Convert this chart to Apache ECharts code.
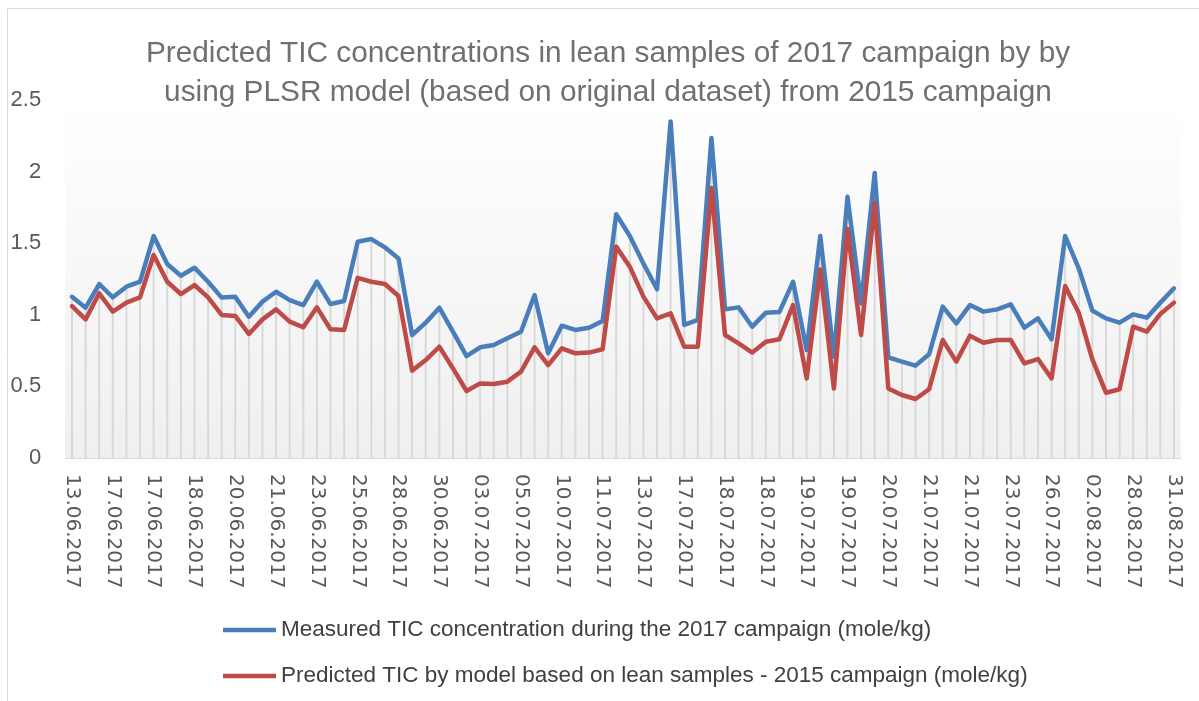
<!DOCTYPE html>
<html>
<head>
<meta charset="utf-8">
<title>Predicted TIC concentrations</title>
<script src="https://cdn.jsdelivr.net/npm/echarts@6/dist/echarts.min.js"></script>
<style>
  html, body { margin: 0; padding: 0; background: #ffffff; }
  #chart { width: 1199px; height: 701px; }
</style>
</head>
<body>
<div id="chart"></div>
<script>
// Sampling dates printed under every third sample
const tickLabels = [
  '13.06.2017', '17.06.2017', '17.06.2017', '18.06.2017', '20.06.2017', '21.06.2017',
  '23.06.2017', '25.06.2017', '28.06.2017', '30.06.2017', '03.07.2017', '05.07.2017',
  '10.07.2017', '11.07.2017', '13.07.2017', '17.07.2017', '18.07.2017', '18.07.2017',
  '19.07.2017', '19.07.2017', '20.07.2017', '21.07.2017', '21.07.2017', '23.07.2017',
  '26.07.2017', '02.08.2017', '28.08.2017', '31.08.2017'
];
const labelEvery = 3;

// Measured TIC, 2017 campaign (mole/kg)
const measured = [
  1.126, 1.05, 1.215, 1.122, 1.196, 1.231, 1.55, 1.355, 1.273, 1.329,
  1.231, 1.12, 1.126, 0.987, 1.092, 1.161, 1.103, 1.068, 1.231, 1.075,
  1.096, 1.51, 1.529, 1.471, 1.394, 0.859, 0.945, 1.05, 0.882, 0.712,
  0.773, 0.789, 0.836, 0.882, 1.138, 0.731, 0.924, 0.894, 0.91, 0.957,
  1.702, 1.55, 1.359, 1.178, 2.35, 0.929, 0.964, 2.235, 1.038, 1.052,
  0.917, 1.015, 1.02, 1.231, 0.754, 1.55, 0.708, 1.825, 1.08, 1.99,
  0.703, 0.673, 0.645, 0.724, 1.057, 0.94, 1.068, 1.022, 1.038, 1.073,
  0.91, 0.975, 0.829, 1.55, 1.325, 1.029, 0.975, 0.945, 1.003, 0.98,
  1.085, 1.185
];

// Predicted TIC from the 2015 lean-sample PLSR model (mole/kg)
const predicted = [
  1.061, 0.968, 1.15, 1.022, 1.085, 1.122, 1.418, 1.231, 1.145, 1.208,
  1.122, 0.999, 0.992, 0.866, 0.968, 1.038, 0.952, 0.913, 1.052, 0.899,
  0.894, 1.258, 1.231, 1.215, 1.131, 0.61, 0.684, 0.777, 0.626, 0.468,
  0.521, 0.517, 0.533, 0.603, 0.773, 0.649, 0.766, 0.731, 0.736, 0.759,
  1.476, 1.336, 1.127, 0.975, 1.01, 0.777, 0.777, 1.885, 0.859, 0.8,
  0.736, 0.812, 0.829, 1.068, 0.556, 1.317, 0.486, 1.6, 0.859, 1.78,
  0.486, 0.44, 0.412, 0.48, 0.824, 0.673, 0.854, 0.805, 0.824, 0.824,
  0.661, 0.691, 0.556, 1.201, 1.015, 0.689, 0.456, 0.48, 0.917, 0.882,
  1.006, 1.085
];

const seriesNames = [
  'Measured TIC concentration during the 2017 campaign (mole/kg)',
  'Predicted TIC by model based on lean samples - 2015 campaign (mole/kg)'
];

// one category per sample; the date text comes from tickLabels
const samples = measured.map((_, i) => String(i + 1));
// drop lines run from the upper of the two curves down to the axis
const dropTops = measured.map((v, i) => Math.max(v, predicted[i]));

const chart = echarts.init(document.getElementById('chart'), null, { renderer: 'canvas' });

const option = {
  backgroundColor: '#ffffff',
  animation: false,
  graphic: [{
    type: 'rect',
    silent: true,
    z: -10,
    shape: { x: 7.5, y: 8.5, width: 1400, height: 900 },
    style: { fill: 'none', stroke: '#d9d9d9', lineWidth: 1 }
  }],
  title: {
    text: 'Predicted TIC concentrations in lean samples of 2017 campaign by by\nusing PLSR model (based on original dataset) from 2015 campaign',
    left: 603,
    textAlign: 'center',
    top: 29,
    textStyle: {
      fontFamily: 'Liberation Sans',
      fontWeight: 'normal',
      fontSize: 29.8,
      lineHeight: 39,
      color: '#707070'
    }
  },
  legend: {
    orient: 'vertical',
    left: 218,
    top: 612,
    icon: 'rect',
    itemWidth: 53,
    itemHeight: 4.5,
    itemGap: 20,
    data: seriesNames,
    textStyle: {
      fontFamily: 'Liberation Sans',
      fontSize: 22.5,
      lineHeight: 26,
      color: '#404040'
    }
  },
  grid: {
    left: 65.2,
    right: 18.2,
    top: 100,
    bottom: 243,
    show: true,
    borderWidth: 0,
    backgroundColor: new echarts.graphic.LinearGradient(0, 0, 0, 1, [
      { offset: 0, color: '#ffffff' },
      { offset: 1, color: '#efefef' }
    ])
  },
  xAxis: {
    type: 'category',
    data: samples,
    boundaryGap: true,
    axisLine: { show: true, lineStyle: { color: '#d9d9d9', width: 1 } },
    axisTick: { show: false },
    splitLine: { show: false },
    axisLabel: {
      interval: labelEvery - 1,
      rotate: -90,
      margin: 16,
      fontFamily: 'DejaVu Sans',
      fontSize: 20,
      color: '#595959',
      formatter: (val, idx) => tickLabels[Math.round(idx / labelEvery)] || ''
    }
  },
  yAxis: {
    type: 'value',
    min: 0,
    max: 2.5,
    interval: 0.5,
    axisLine: { show: false },
    axisTick: { show: false },
    splitLine: { show: false },
    axisLabel: {
      margin: 24,
      fontFamily: 'Liberation Sans',
      fontSize: 22,
      color: '#595959'
    }
  },
  series: [
    {
      name: 'drop',
      type: 'bar',
      data: dropTops,
      barWidth: 2,
      silent: true,
      z: 1,
      itemStyle: { color: '#d9d9d9' }
    },
    {
      name: seriesNames[0],
      type: 'line',
      data: measured,
      symbol: 'none',
      z: 3,
      lineStyle: { color: '#4a7ebb', width: 4.5, join: 'round', cap: 'round' },
      itemStyle: { color: '#4a7ebb' }
    },
    {
      name: seriesNames[1],
      type: 'line',
      data: predicted,
      symbol: 'none',
      z: 4,
      lineStyle: { color: '#be4b48', width: 4.5, join: 'round', cap: 'round' },
      itemStyle: { color: '#be4b48' }
    }
  ]
};

chart.setOption(option);
</script>
</body>
</html>
